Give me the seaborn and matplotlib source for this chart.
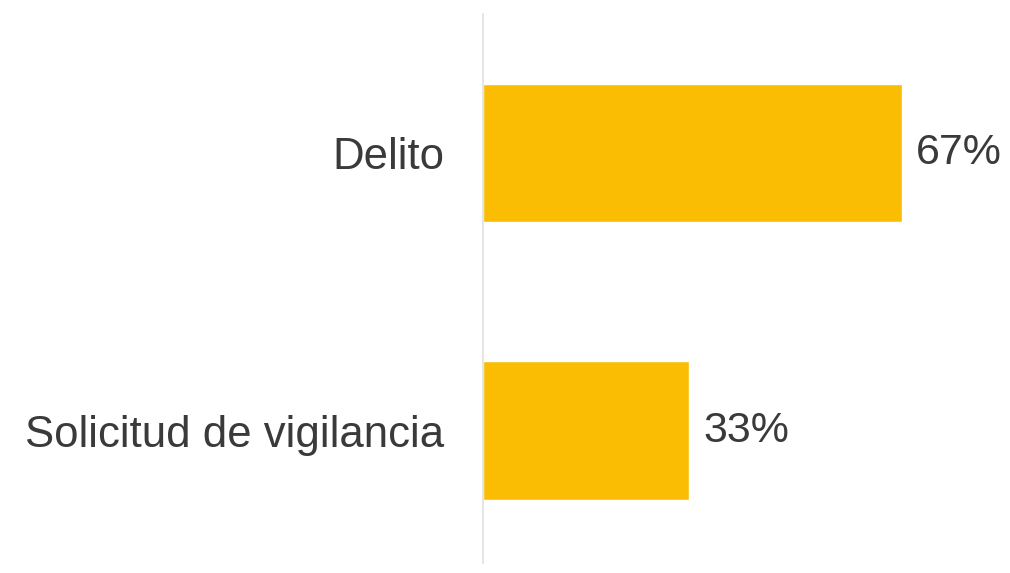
import matplotlib
matplotlib.use("Agg")
import matplotlib.pyplot as plt
import seaborn as sns
import pandas as pd

categories = ["Delito", "Solicitud de vigilancia"]
values = [67, 33]
value_labels = ["67%", "33%"]

sns.set_theme(style="white")
plt.rcParams["font.family"] = ["Liberation Sans", "DejaVu Sans"]

data = pd.DataFrame({"motivo": categories, "pct": values})

fig = plt.figure(figsize=(10.1, 5.73), dpi=100)
ax = fig.add_axes([0.4782, 0.0175, 0.520, 0.958])

sns.barplot(data=data, x="pct", y="motivo", color="#FBBC04", saturation=1,
            width=0.5, ax=ax)

ax.set_xlim(0, 84)
ax.set_ylim(1.475, -0.5)

for s in ["top", "right", "bottom"]:
    ax.spines[s].set_visible(False)
ax.spines["left"].set_color("#e0e0e0")
ax.spines["left"].set_linewidth(1.2)

ax.set_xticks([])
ax.set_xlabel("")
ax.set_ylabel("")
ax.tick_params(axis="y", length=0, pad=28, labelsize=31.5, labelcolor="#3a3a3a")

ax.bar_label(ax.containers[0], labels=value_labels, padding=10,
             fontsize=31, color="#3a3a3a")

fig.savefig("out.png", dpi=100)
